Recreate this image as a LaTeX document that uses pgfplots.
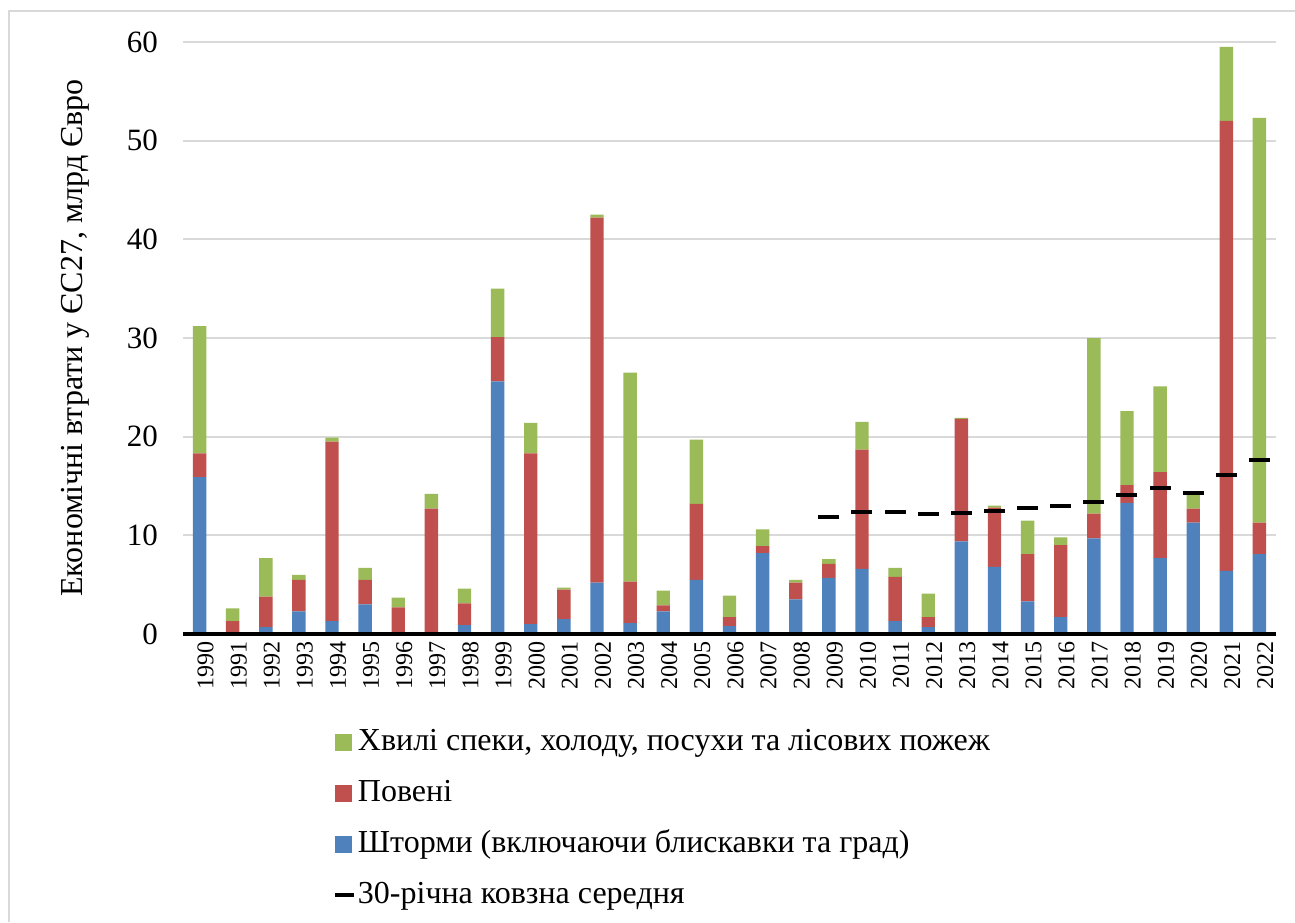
\documentclass[border=0pt]{standalone}
\usepackage{fontspec}
\setmainfont{Liberation Serif}
\usepackage{pgfplots}
\pgfplotsset{compat=1.18}
\usepackage{pgfplotstable}
\definecolor{cBlue}{HTML}{4F81BD}
\definecolor{cRed}{HTML}{C0504D}
\definecolor{cGreen}{HTML}{9BBB59}
\definecolor{cGrid}{HTML}{D9D9D9}

\pgfplotstableread{
year blue red green
1990 15.9 2.4 12.9
1991 0.0 1.3 1.3
1992 0.7 3.1 3.9
1993 2.3 3.2 0.5
1994 1.3 18.2 0.4
1995 3.0 2.5 1.2
1996 0.0 2.7 1.0
1997 0.2 12.5 1.5
1998 0.9 2.2 1.5
1999 25.6 4.5 4.9
2000 1.0 17.3 3.1
2001 1.5 3.0 0.2
2002 5.2 37.0 0.3
2003 1.1 4.2 21.2
2004 2.3 0.6 1.5
2005 5.5 7.7 6.5
2006 0.8 0.9 2.2
2007 8.2 0.7 1.7
2008 3.5 1.7 0.3
2009 5.7 1.4 0.5
2010 6.6 12.1 2.8
2011 1.3 4.5 0.9
2012 0.7 1.0 2.4
2013 9.4 12.4 0.1
2014 6.8 6.0 0.2
2015 3.3 4.8 3.4
2016 1.7 7.3 0.8
2017 9.7 2.5 17.8
2018 13.3 1.8 7.5
2019 7.7 8.7 8.7
2020 11.3 1.4 1.6
2021 6.4 45.6 7.5
2022 8.1 3.2 41.0
}\lossdata

\pgfplotstableread{
year ma
2009 11.9
2010 12.4
2011 12.4
2012 12.2
2013 12.3
2014 12.5
2015 12.8
2016 13.0
2017 13.4
2018 14.1
2019 14.8
2020 14.3
2021 16.1
2022 17.6
}\madata

\begin{document}
\begin{tikzpicture}
\useasboundingbox (0,0) rectangle (647.5pt,-461pt);
\draw[cGrid, line width=1pt] (4.5pt,-461pt) -- (4.5pt,-5.5pt) -- (647.5pt,-5.5pt);

\pgfplotsset{
  common/.style={
    scale only axis,
    width=546.5pt, height=296pt,
    at={(91.5pt,-317pt)}, anchor=south west,
    xmin=1989.5, xmax=2022.5,
    ymin=0, ymax=60,
  }
}

\begin{axis}[
  common,
  ybar stacked,
  bar width=6.7pt,
  axis line style={draw=none},
  ymajorgrids,
  grid style={cGrid, line width=0.9pt},
  ytick={0,10,...,60},
  xtick={1990,...,2022},
  major tick length=0pt,
  tick style={draw=none},
  /pgf/number format/assume math mode=true,
  /pgf/number format/1000 sep={},
  yticklabel style={font=\fontsize{15.5}{18}\selectfont, xshift=-9pt},
  xticklabel style={font=\fontsize{12}{14}\selectfont, rotate=90, anchor=east, yshift=-3pt},
  ylabel={Економічні втрати у ЄС27, млрд Євро},
  ylabel style={font=\fontsize{16}{19}\selectfont, at={(axis description cs:-0.0988,0.5)}, anchor=center},
  legend style={
    at={(axis description cs:0.1317,-0.148)}, anchor=north west,
    draw=none, fill=none,
    font=\fontsize{16}{19}\selectfont,
    row sep=9.5pt,
    nodes={inner sep=1pt, text height=11pt, text depth=3pt},
  },
  legend cell align=left,
]
\addplot[fill=cBlue, draw=none, forget plot] table[x=year, y=blue] {\lossdata};
\addplot[fill=cRed, draw=none, forget plot] table[x=year, y=red] {\lossdata};
\addplot[fill=cGreen, draw=none, forget plot] table[x=year, y=green] {\lossdata};

\addlegendimage{legend image code/.code={\fill[cGreen] (0pt,-4pt) rectangle (8pt,4pt);}}
\addlegendentry{Хвилі спеки, холоду, посухи та лісових пожеж}
\addlegendimage{legend image code/.code={\fill[cRed] (0pt,-4pt) rectangle (8pt,4pt);}}
\addlegendentry{Повені}
\addlegendimage{legend image code/.code={\fill[cBlue] (0pt,-4pt) rectangle (8pt,4pt);}}
\addlegendentry{Шторми (включаючи блискавки та град)}
\addlegendimage{legend image code/.code={\draw[black, line width=1.8pt] (0pt,0pt) -- (9.5pt,0pt);}}
\addlegendentry{30-річна ковзна середня}
\end{axis}

\begin{axis}[
  common,
  axis lines=none,
  xtick=\empty, ytick=\empty,
  clip=false,
]
\addplot[black, line width=2pt, no marks] coordinates {(1989.5,0) (2022.5,0)};
\addplot[only marks, mark=-, mark size=5.25pt, mark options={black, line width=2pt}] table[x=year, y=ma] {\madata};
\end{axis}
\end{tikzpicture}
\end{document}
